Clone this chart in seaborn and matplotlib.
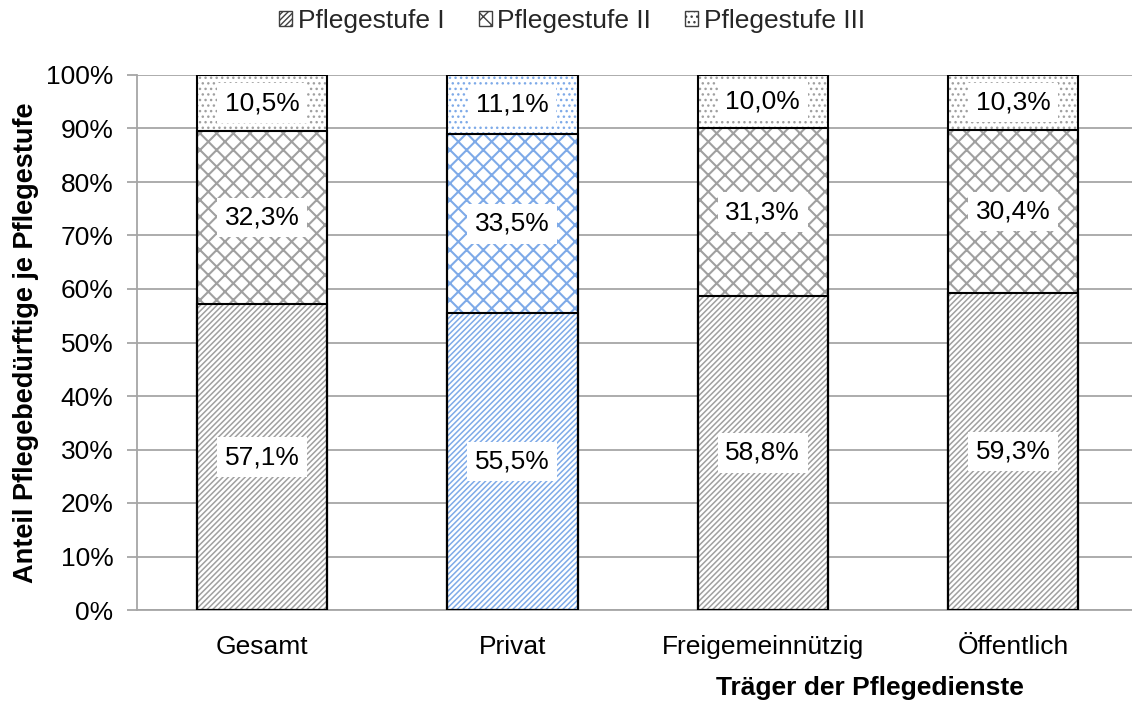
import matplotlib
matplotlib.use("Agg")
import matplotlib.pyplot as plt
import matplotlib.patches as mpatches
import seaborn as sns
import numpy as np

# data
categories = ["Gesamt", "Privat", "Freigemeinnützig", "Öffentlich"]
stufe_1 = [57.1, 55.5, 58.8, 59.3]
stufe_2 = [32.3, 33.5, 31.3, 30.4]
stufe_3 = [10.5, 11.1, 10.0, 10.3]
series_names = ["Pflegestufe I", "Pflegestufe II", "Pflegestufe III"]

sns.set_theme(style="white")
plt.rcParams["font.family"] = ["Liberation Sans", "DejaVu Sans"]

gray = "#a0a0a0"
blue = "#7eaae8"
hatch_colors = [gray, blue, gray, gray]
hatches = ["//////", "xx", "..."]
hatch_lw = [1.1, 1.5, 1.0]
fs = 19

# 100% stacked: normalise each bar
vals = np.array([stufe_1, stufe_2, stufe_3])
shares = vals / vals.sum(axis=0) * 100
cums = np.cumsum(shares, axis=0)

fig = plt.figure(figsize=(11.32, 7.04), dpi=100)
ax = fig.add_axes([137 / 1132, 94 / 704, 995 / 1132, 535 / 704])

bar_w = 0.52
# draw from top layer down so lower segments overlay upper ones
for k in [2, 1, 0]:
    n0 = len(ax.patches)
    with plt.rc_context({"hatch.linewidth": hatch_lw[k]}):
        sns.barplot(x=categories, y=cums[k], color="white", width=bar_w,
                    saturation=1, ax=ax, zorder=2)
    for p, hc in zip(ax.patches[n0:], hatch_colors):
        p.set_facecolor("white")
        p.set_edgecolor(hc)
        p.set_hatch(hatches[k])
        p.set_linewidth(0)
        if hasattr(p, "set_hatch_linewidth"):
            p.set_hatch_linewidth(hatch_lw[k])

# black outlines for segments
for k in [2, 1, 0]:
    n0 = len(ax.patches)
    sns.barplot(x=categories, y=cums[k], color="white", width=bar_w,
                saturation=1, ax=ax, zorder=3)
    for p in ax.patches[n0:]:
        p.set_facecolor("none")
        p.set_edgecolor("black")
        p.set_linewidth(1.5)

# value labels
bottoms = np.vstack([np.zeros(4), cums[:-1]])
for k in range(3):
    for i in range(4):
        ymid = bottoms[k][i] + shares[k][i] / 2
        ax.text(i, ymid, f"{vals[k][i]:.1f}%".replace(".", ","),
                ha="center", va="center", fontsize=fs, color="black", zorder=5,
                bbox=dict(facecolor="white", edgecolor="none", pad=5.5))

ax.set_ylim(0, 100)
ax.set_xlim(-0.5, -0.5 + 995 / 250.3)
ax.set_yticks(np.arange(0, 101, 10))
ax.set_yticklabels([f"{v}%" for v in range(0, 101, 10)])
ax.yaxis.grid(True, color="#a6a6a6", linewidth=1.3, zorder=0)
ax.set_axisbelow(True)
for s in ["top", "right"]:
    ax.spines[s].set_visible(False)
ax.spines["left"].set_color("#a6a6a6")
ax.spines["left"].set_linewidth(1.3)
ax.spines["bottom"].set_color("#a6a6a6")
ax.spines["bottom"].set_linewidth(1.3)
ax.tick_params(axis="y", left=True, length=7, width=1.3, color="#a6a6a6",
               labelsize=fs, pad=10, labelcolor="black")
ax.tick_params(axis="x", bottom=False, labelsize=fs, pad=12, labelcolor="black")

ax.set_ylabel("Anteil Pflegebedürftige je Pflegestufe", fontsize=19.5,
              fontweight="bold", labelpad=5, color="black")
ax.set_xlabel("")
fig.text(870 / 1132, 1 - 688 / 704, "Träger der Pflegedienste", ha="center",
         va="center", fontsize=fs, fontweight="bold", color="black")

handles = []
for k in range(3):
    h = mpatches.Patch(facecolor="white", edgecolor="#404040", hatch=hatches[k],
                       linewidth=1.0, label=series_names[k])
    handles.append(h)
fig.legend(handles=handles, loc="center", bbox_to_anchor=(572 / 1132, 1 - 21 / 704),
           ncol=3, frameon=False, fontsize=fs, handlelength=0.5, handleheight=0.5,
           handletextpad=0.2, columnspacing=1.3)

fig.savefig("out.png", dpi=100)
